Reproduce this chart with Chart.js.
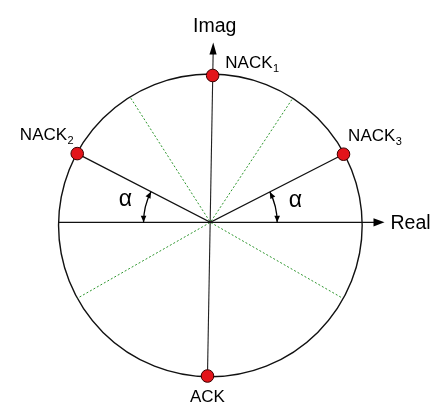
<!DOCTYPE html>
<html>
<head>
<meta charset="utf-8">
<script src="https://cdn.jsdelivr.net/npm/chart.js@4/dist/chart.umd.min.js"></script>
<style>
  html, body { margin: 0; padding: 0; background: #fff; }
  canvas { display: block; }
</style>
</head>
<body>
<canvas id="constellation" width="442" height="409"></canvas>
<script>
// Constellation symbols: name, subscript, real part, imaginary part
const symbolNames = ['NACK', 'NACK', 'NACK', 'ACK'];
const symbolIndex = ['1', '2', '3', ''];
const symbolRe = [0.015, -0.877, 0.877, -0.019];
const symbolIm = [0.970, 0.454, 0.450, -1.015];

// Decision-boundary rays from the origin, ending on the circle
const boundaryRe = [-0.524, 0.537, -0.875, 0.871];
const boundaryIm = [0.820, 0.811, -0.501, -0.501];

// Axes (real axis along Im = 0, imaginary axis through ACK and NACK1)
const axisNames = ['Real', 'Imag'];
const realAxisRe = [-1.003, 1.147];
const imagAxisRe = [-0.019, 0.019];
const imagAxisIm = [-1.015, 1.188];

// Unit circle
const circleCenter = [0, -0.02];
const circleRadius = 1.0;

// Angle marker between the real axis and the NACK2 / NACK3 spokes
const angleLabel = 'α';
const angleArcRadius = 0.44;

const FONT = '"Liberation Sans", Arial, Helvetica, sans-serif';

const pt = (x, y) => ({ x, y });

function drawArrowHead(ctx, x, y, dirX, dirY, len, half) {
  const n = Math.hypot(dirX, dirY);
  const ux = dirX / n, uy = dirY / n;
  const bx = x - ux * len, by = y - uy * len;
  ctx.beginPath();
  ctx.moveTo(x, y);
  ctx.lineTo(bx - uy * half, by + ux * half);
  ctx.lineTo(bx + uy * half, by - ux * half);
  ctx.closePath();
  ctx.fill();
}

const diagramPlugin = {
  id: 'diagram',
  beforeDatasetsDraw(chart) {
    const { ctx, scales: { x, y } } = chart;
    // circle
    const cx = x.getPixelForValue(circleCenter[0]);
    const cy = y.getPixelForValue(circleCenter[1]);
    const rx = x.getPixelForValue(circleCenter[0] + circleRadius) - cx;
    const ry = cy - y.getPixelForValue(circleCenter[1] + circleRadius);
    ctx.save();
    ctx.strokeStyle = '#111';
    ctx.lineWidth = 1.4;
    ctx.beginPath();
    ctx.ellipse(cx, cy, rx, ry, 0, 0, Math.PI * 2);
    ctx.stroke();
    ctx.restore();
  },
  afterDatasetsDraw(chart) {
    const { ctx, scales: { x, y } } = chart;
    const ox = x.getPixelForValue(0), oy = y.getPixelForValue(0);
    ctx.save();
    ctx.fillStyle = '#000';
    ctx.strokeStyle = '#000';

    // axis arrow heads
    const rTipX = x.getPixelForValue(realAxisRe[1]);
    drawArrowHead(ctx, rTipX, oy, 1, 0, 11, 4.2);
    const iTipX = x.getPixelForValue(imagAxisRe[1]);
    const iTipY = y.getPixelForValue(imagAxisIm[1]);
    const iBaseX = x.getPixelForValue(imagAxisRe[0]);
    const iBaseY = y.getPixelForValue(imagAxisIm[0]);
    drawArrowHead(ctx, iTipX, iTipY, iTipX - iBaseX, iTipY - iBaseY, 12, 3.6);

    // axis names
    ctx.font = '19.5px ' + FONT;
    ctx.textBaseline = 'alphabetic';
    ctx.textAlign = 'left';
    ctx.fillText(axisNames[0], rTipX + 6, oy + 7);
    ctx.textAlign = 'center';
    ctx.fillText(axisNames[1], iTipX + 1.5, iTipY - 10.5);

    // angle arcs with arrow heads at both ends
    const rArc = x.getPixelForValue(angleArcRadius) - ox;
    const arcs = [1, 2].map(i => {
      const a = Math.atan2(y.getPixelForValue(symbolIm[i]) - oy,
                           x.getPixelForValue(symbolRe[i]) - ox);
      return i === 1 ? [Math.PI, a + Math.PI * 2] : [a, 0];
    });
    ctx.lineWidth = 1.3;
    arcs.forEach(([a0, a1]) => {
      ctx.beginPath();
      ctx.arc(ox, oy, rArc, a0, a1, false);
      ctx.stroke();
      drawArrowHead(ctx, ox + rArc * Math.cos(a0), oy + rArc * Math.sin(a0),
                    Math.sin(a0), -Math.cos(a0), 6.5, 2.8);
      drawArrowHead(ctx, ox + rArc * Math.cos(a1), oy + rArc * Math.sin(a1),
                    -Math.sin(a1), Math.cos(a1), 6.5, 2.8);
    });
    ctx.font = '23px ' + FONT;
    ctx.textAlign = 'center';
    ctx.fillText(angleLabel, ox - 85, oy - 16);
    ctx.fillText(angleLabel, ox + 85, oy - 15);

    // symbol labels with subscripts
    const place = [
      { dx: 12.7, dy: -7.4, align: 'left' },
      { dx: -4, dy: -14, align: 'right' },
      { dx: 4.6, dy: -13, align: 'left' },
      { dx: 0, dy: 26, align: 'center' }
    ];
    const mainFont = '17px ' + FONT, subFont = '11px ' + FONT;
    symbolNames.forEach((name, i) => {
      const px = x.getPixelForValue(symbolRe[i]);
      const py = y.getPixelForValue(symbolIm[i]);
      ctx.font = mainFont;
      const wMain = ctx.measureText(name).width;
      ctx.font = subFont;
      const wSub = symbolIndex[i] ? ctx.measureText(symbolIndex[i]).width : 0;
      const total = wMain + wSub;
      const p = place[i];
      let left = px + p.dx;
      if (p.align === 'right') left -= total;
      if (p.align === 'center') left -= total / 2;
      const base = py + p.dy;
      ctx.textAlign = 'left';
      ctx.font = mainFont;
      ctx.fillText(name, left, base);
      if (symbolIndex[i]) {
        ctx.font = subFont;
        ctx.fillText(symbolIndex[i], left + wMain + 0.5, base + 4);
      }
    });
    ctx.restore();
  }
};

const lineSet = (data, color, width, dash, order) => ({
  data, showLine: true, fill: false, pointRadius: 0, borderColor: color,
  borderWidth: width, borderDash: dash, tension: 0, clip: false, order
});

new Chart(document.getElementById('constellation'), {
  type: 'scatter',
  data: {
    datasets: [
      {
        data: symbolRe.map((re, i) => pt(re, symbolIm[i])),
        pointRadius: 6.3,
        pointBackgroundColor: '#e3141a',
        pointBorderColor: '#3a0000',
        pointBorderWidth: 1,
        showLine: false,
        clip: false,
        order: 0
      },
      lineSet([pt(symbolRe[1], symbolIm[1]), pt(0, 0), pt(symbolRe[2], symbolIm[2])], '#111', 1.3, [], 2),
      lineSet([pt(realAxisRe[0], 0), pt(realAxisRe[1] - 0.03, 0)], '#111', 1.3, [], 2),
      lineSet([pt(imagAxisRe[0], imagAxisIm[0]), pt(imagAxisRe[1], imagAxisIm[1] - 0.03)], '#222', 1.1, [], 2),
      lineSet([pt(boundaryRe[0], boundaryIm[0]), pt(0, 0), pt(boundaryRe[3], boundaryIm[3])], '#2e962e', 1, [2, 2], 3),
      lineSet([pt(boundaryRe[1], boundaryIm[1]), pt(0, 0), pt(boundaryRe[2], boundaryIm[2])], '#2e962e', 1, [2, 2], 3)
    ]
  },
  options: {
    responsive: false,
    devicePixelRatio: 1,
    animation: false,
    events: [],
    layout: { padding: 0 },
    plugins: { legend: { display: false }, tooltip: { enabled: false } },
    scales: {
      x: { type: 'linear', display: false, min: -210 / 157, max: 232 / 157 },
      y: { type: 'linear', display: false, min: -186 / 157, max: 223 / 157 }
    }
  },
  plugins: [diagramPlugin]
});
</script>
</body>
</html>
